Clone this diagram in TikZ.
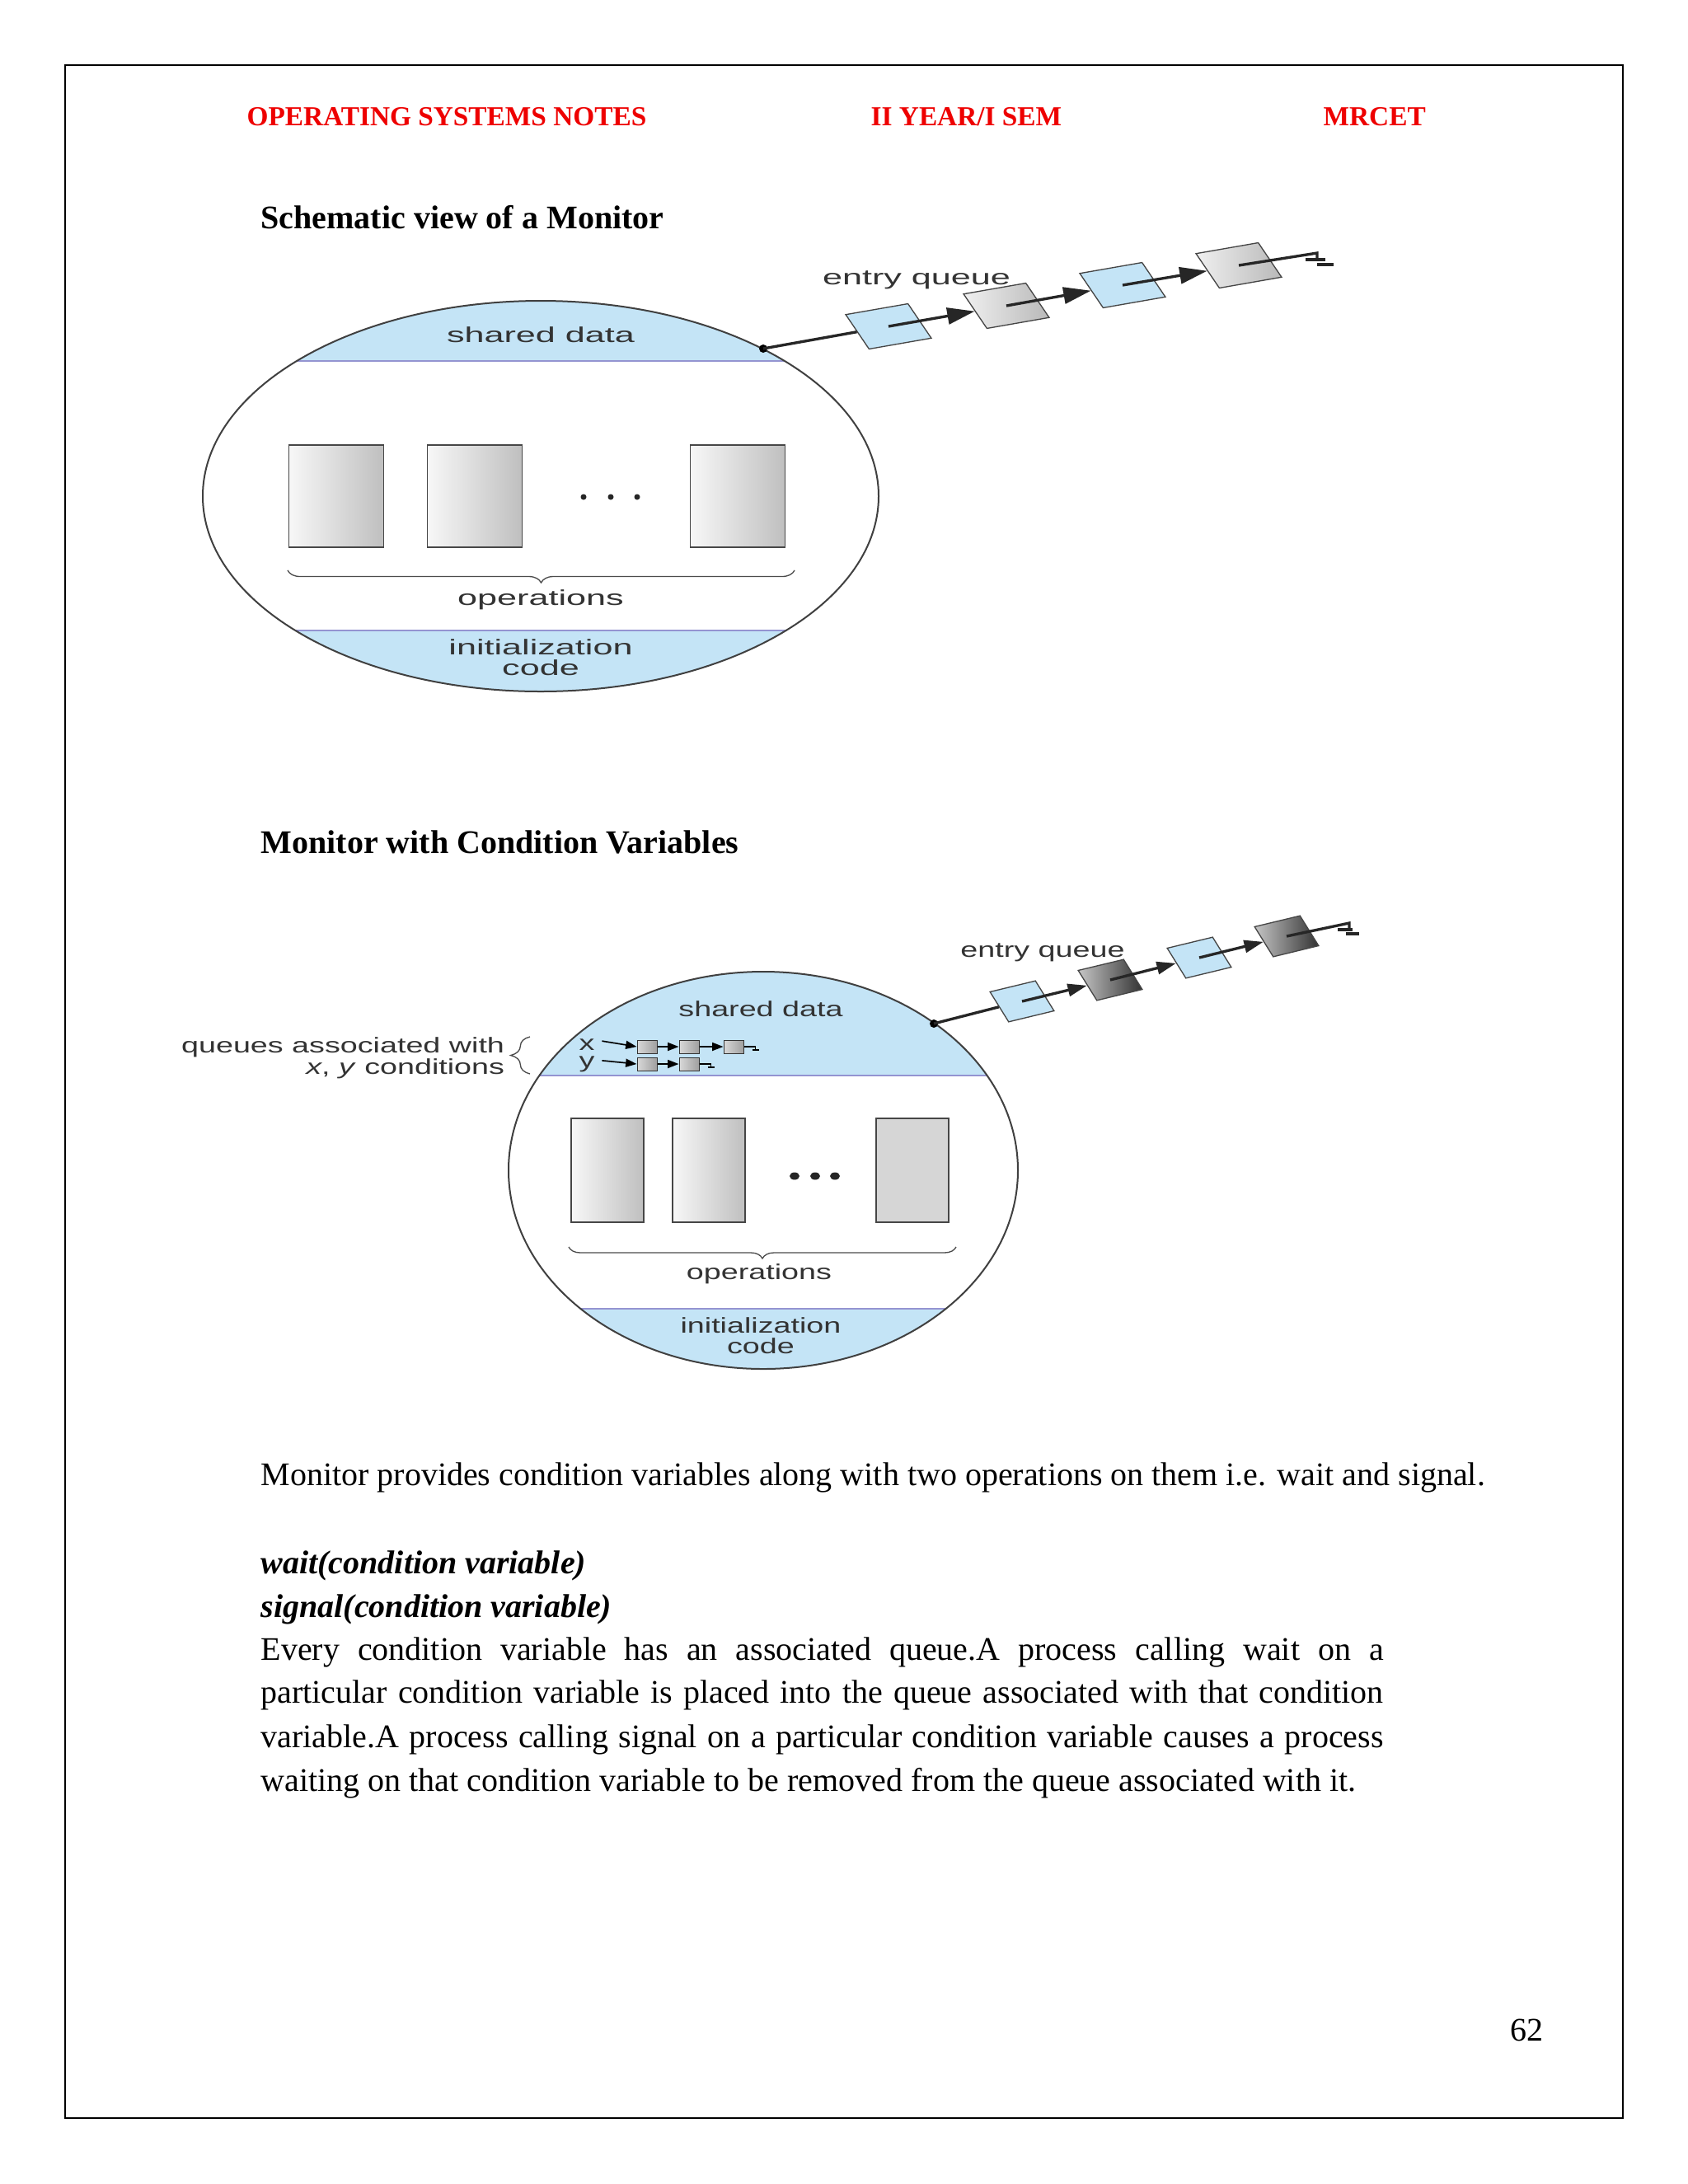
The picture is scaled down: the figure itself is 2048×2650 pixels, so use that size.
\documentclass[tikz,border=0pt]{standalone}
\usepackage{fontspec}
\setmainfont{Liberation Serif}
\newfontfamily\figfont{Liberation Sans}
\usepackage{xcolor}
\usepackage{tikz}
\usetikzlibrary{arrows.meta, positioning, calc, decorations.pathreplacing}

\definecolor{qblue}{RGB}{196,228,246}
\definecolor{hdrred}{RGB}{238,0,0}

\begin{document}
\begin{tikzpicture}[x=0.3pt, y=0.3pt,
    hdr/.style={font=\bfseries\fontsize{10}{12}\selectfont, text=hdrred, inner sep=0pt, anchor=base west},
    ttl/.style={font=\bfseries\fontsize{12}{14}\selectfont, inner sep=0pt, anchor=base west},
    body/.style={font=\fontsize{12}{14}\selectfont, inner sep=0pt, anchor=base west},
    lblA/.style={font=\figfont\fontsize{7.8}{7.8}\selectfont, xscale=1.66, inner sep=0pt, text=black!80},
    lblB/.style={font=\figfont\fontsize{7.8}{7.8}\selectfont, xscale=1.45, inner sep=0pt, text=black!80},
    qboxA/.style={draw=gray!55!black, line width=0.4pt, inner sep=0pt,
        minimum width=23pt, minimum height=13.8pt, rotate=9.9, xslant=-0.45},
    qboxB/.style={draw=gray!55!black, line width=0.4pt, inner sep=0pt,
        minimum width=17pt, minimum height=12.2pt, rotate=13.6, xslant=-0.33},
    opbox/.style={draw=gray!55!black, line width=0.5pt, inner sep=0pt},
    cbox/.style={draw=gray!40!black, line width=0.3pt, inner sep=0pt,
        minimum width=7.2pt, minimum height=4.8pt, left color=gray!30, right color=gray!75},
    qline/.style={line width=1pt, black!85},
    bandline/.style={line width=0.6pt, gray!60!blue!60},
    outline/.style={line width=0.6pt, black!75},
    brc/.style={line width=0.4pt, gray!60!black, decorate}]

    % 页面
    \useasboundingbox (0,0) rectangle (2048,-2650);
    \fill[white] (0,0) rectangle (2048,-2650);
    \draw[line width=0.6pt] (79,-79) rectangle (1969,-2570);

    % 页眉
    \node (hd1) [hdr] at (299,-152) {OPERATING SYSTEMS NOTES};
    \node (hd2) [hdr] at (1056,-152) {II YEAR/I SEM};
    \node (hd3) [hdr] at (1605,-152) {MRCET};

    % 标题一
    \node (tt1) [ttl] at (316,-277) {Schematic view of a Monitor};

    % 管程椭圆
    \def\ax{656}
    \def\ay{-602}
    \def\arx{410}
    \def\ary{237}
    \begin{scope}
        \clip (\ax,\ay) ellipse [x radius=\arx, y radius=\ary];
        \fill[qblue] (\ax-\arx,\ay+\ary) rectangle (\ax+\arx,-438);
        \fill[qblue] (\ax-\arx,-765) rectangle (\ax+\arx,\ay-\ary);
        \draw[bandline] (\ax-\arx,-438) -- (\ax+\arx,-438);
        \draw[bandline] (\ax-\arx,-765) -- (\ax+\arx,-765);
    \end{scope}
    \draw[outline] (\ax,\ay) ellipse [x radius=\arx, y radius=\ary];

    % 操作
    \node (op11) [opbox, left color=gray!6, right color=gray!50,
        minimum width=34.5pt, minimum height=37.2pt] at (408,-602) {};
    \node (op12) [opbox, left color=gray!6, right color=gray!50,
        minimum width=34.5pt, minimum height=37.2pt] at (576,-602) {};
    \node (op13) [opbox, left color=gray!6, right color=gray!50,
        minimum width=34.5pt, minimum height=37.2pt] at (895,-602) {};
    \foreach \x in {708,741,773}
        \fill[black!85] (\x,-603) circle (3.5);
    \draw[brc, decoration={brace, mirror, amplitude=4.5pt}] (349,-692) -- (964,-692);

    % 文字
    \node (shd1) [lblA] at (656,-406) {shared data};
    \node (ops1) [lblA, anchor=base] at (656,-734) {operations};
    \node (ini1) [lblA, anchor=base] at (656,-794) {initialization};
    \node (cod1) [lblA, anchor=base] at (656,-819) {code};
    \node (ent1) [lblA, anchor=base] at (1112,-345) {entry queue};

    % 入口队列
    \coordinate (m1) at (926,-423);
    \node (q11) [qboxA, fill=qblue] at (1078,-396) {};
    \node (q12) [qboxA, left color=gray!12, right color=gray!55] at (1221,-371) {};
    \node (q13) [qboxA, fill=qblue] at (1362,-346) {};
    \node (q14) [qboxA, left color=gray!12, right color=gray!55] at (1503,-322) {};
    \coordinate (nil1) at (1598,-307);
    \fill (m1) circle (5);
    \draw[qline] (m1) -- (q11.west);
    \draw[qline, -{Triangle[length=10pt, width=6pt]}] (q11.center) -- (q12.west);
    \draw[qline, -{Triangle[length=10pt, width=6pt]}] (q12.center) -- (q13.west);
    \draw[qline, -{Triangle[length=10pt, width=6pt]}] (q13.center) -- (q14.west);
    \draw[qline] (q14.center) -- (nil1) -- ++(0,-8);
    \draw[qline] (nil1) ++(-14,-8) -- ++(24,0);
    \draw[qline] (nil1) ++(0,-14) -- ++(20,0);

    % 标题二
    \node (tt2) [ttl] at (316,-1035) {Monitor with Condition Variables};

    % 管程椭圆
    \def\bx{926}
    \def\by{-1420}
    \def\brx{309}
    \def\bry{241}
    \begin{scope}
        \clip (\bx,\by) ellipse [x radius=\brx, y radius=\bry];
        \fill[qblue] (\bx-\brx,\by+\bry) rectangle (\bx+\brx,-1305);
        \fill[qblue] (\bx-\brx,-1588) rectangle (\bx+\brx,\by-\bry);
        \draw[bandline] (\bx-\brx,-1305) -- (\bx+\brx,-1305);
        \draw[bandline] (\bx-\brx,-1588) -- (\bx+\brx,-1588);
    \end{scope}
    \draw[outline] (\bx,\by) ellipse [x radius=\brx, y radius=\bry];

    % 操作
    \node (op21) [opbox, left color=gray!6, right color=gray!50,
        minimum width=26.4pt, minimum height=37.8pt] at (737,-1420) {};
    \node (op22) [opbox, left color=gray!6, right color=gray!50,
        minimum width=26.4pt, minimum height=37.8pt] at (860,-1420) {};
    \node (op23) [opbox, fill=gray!32,
        minimum width=26.4pt, minimum height=37.8pt] at (1107,-1420) {};
    \foreach \x in {964,989,1013}
        \fill[black!85] (\x,-1427) ellipse [x radius=6, y radius=4.5];
    \draw[brc, decoration={brace, mirror, amplitude=4.2pt}] (690,-1513) -- (1160,-1513);

    % 文字
    \node (shd2) [lblB] at (923,-1224) {shared data};
    \node (ops2) [lblB, anchor=base] at (921,-1552) {operations};
    \node (ini2) [lblB, anchor=base] at (923,-1617) {initialization};
    \node (cod2) [lblB, anchor=base] at (923,-1642) {code};
    \node (ent2) [lblB, anchor=base] at (1265,-1161) {entry queue};

    % 条件变量队列
    \node (qa1) [lblB, anchor=base east] at (613,-1277) {queues associated with};
    \node (qa2) [lblB, anchor=base east] at (613,-1303) {\textit{x}, \textit{y} conditions};
    \draw[brc, decoration={brace, amplitude=7pt}] (643,-1303) -- (643,-1258);
    \node (lx) [lblB, anchor=base] at (712,-1274) {x};
    \node (ly) [lblB, anchor=base] at (712,-1295) {y};
    \node (cx1) [cbox] at (785,-1270) {};
    \node (cx2) [cbox] at (836,-1270) {};
    \node (cx3) [cbox] at (890,-1270) {};
    \node (cy1) [cbox] at (785,-1291) {};
    \node (cy2) [cbox] at (836,-1291) {};
    \draw[line width=0.5pt, -{Triangle[length=4pt, width=3pt]}] (lx.east) ++(8,4) -- (cx1.west);
    \draw[line width=0.5pt, -{Triangle[length=4pt, width=3pt]}] (cx1.east) -- (cx2.west);
    \draw[line width=0.5pt, -{Triangle[length=4pt, width=3pt]}] (cx2.east) -- (cx3.west);
    \draw[line width=0.5pt, -{Triangle[length=4pt, width=3pt]}] (ly.east) ++(8,4) -- (cy1.west);
    \draw[line width=0.5pt, -{Triangle[length=4pt, width=3pt]}] (cy1.east) -- (cy2.west);
    \draw[line width=0.4pt] (cx3.east) -- ++(14,0) -- ++(0,-4) ++(-4,0) -- ++(8,0);
    \draw[line width=0.4pt] (cy2.east) -- ++(14,0) -- ++(0,-4) ++(-4,0) -- ++(8,0);

    % 入口队列
    \coordinate (m2) at (1133,-1242);
    \node (q21) [qboxB, fill=qblue] at (1240,-1215) {};
    \node (q22) [qboxB, left color=gray!45, right color=black!80] at (1347,-1189) {};
    \node (q23) [qboxB, fill=qblue] at (1455,-1162) {};
    \node (q24) [qboxB, left color=gray!45, right color=black!80] at (1561,-1136) {};
    \coordinate (nil2) at (1637,-1120);
    \fill (m2) circle (5);
    \draw[qline] (m2) -- (q21.west);
    \draw[qline, -{Triangle[length=7pt, width=4.5pt]}] (q21.center) -- (q22.west);
    \draw[qline, -{Triangle[length=7pt, width=4.5pt]}] (q22.center) -- (q23.west);
    \draw[qline, -{Triangle[length=7pt, width=4.5pt]}] (q23.center) -- (q24.west);
    \draw[qline] (q24.center) -- (nil2) -- ++(0,-8);
    \draw[qline] (nil2) ++(-14,-8) -- ++(18,0);
    \draw[qline] (nil2) ++(-4,-13) -- ++(16,0);

    % 正文
    \node (p1) [body] at (316,-1802) {Monitor provides condition variables along with two operations on them i.e. wait and signal.};
    \node (p2) [body] at (316,-1909) {\textbf{\textit{wait(condition variable)}}};
    \node (p3) [body] at (316,-1962) {\textbf{\textit{signal(condition variable)}}};
    \node (p4) [body] at (316,-2014) {\makebox[408.6pt][s]{Every condition variable has an associated queue.A process calling wait on a}};
    \node (p5) [body] at (316,-2066) {\makebox[408.6pt][s]{particular condition variable is placed into the queue associated with that condition}};
    \node (p6) [body] at (316,-2120) {\makebox[408.6pt][s]{variable.A process calling signal on a particular condition variable causes a process}};
    \node (p7) [body] at (316,-2173) {waiting on that condition variable to be removed from the queue associated with it.};

    % 页码
    \node (pg) [body] at (1832,-2476) {62};

\end{tikzpicture}
\end{document}
